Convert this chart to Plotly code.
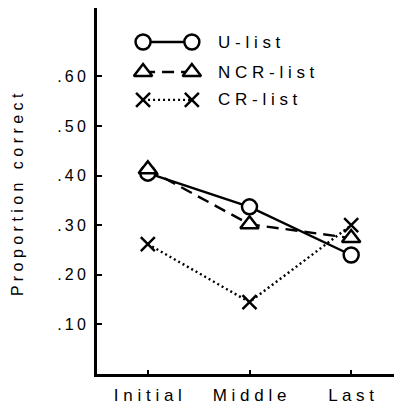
import plotly.graph_objects as go

# ---- data ----
categories = ["Initial", "Middle", "Last"]
u_list = [0.405, 0.337, 0.240]
ncr_list = [0.413, 0.302, 0.274]
cr_list = [0.262, 0.145, 0.300]
series_names = ["U-list", "NCR-list", "CR-list"]
y_ticks = [0.10, 0.20, 0.30, 0.40, 0.50, 0.60]
y_tick_labels = [".10", ".20", ".30", ".40", ".50", ".60"]
y_title = "Proportion correct"

FONT = "Liberation Sans, Arial, Helvetica, sans-serif"


def spaced(s, gap=" "):
    return gap.join(list(s))


styles = [
    dict(dash="solid", symbol="circle", size=15),
    dict(dash="12px,7px", symbol="triangle-up", size=16),
    dict(dash="2px,3px", symbol="x-thin", size=14),
]

fig = go.Figure()
for vals, st in zip([u_list, ncr_list, cr_list], styles):
    fig.add_trace(go.Scatter(
        x=categories, y=vals, mode="lines+markers",
        line=dict(color="black", width=2.4, dash=st["dash"]),
        marker=dict(symbol=st["symbol"], size=st["size"], color="white",
                    line=dict(color="black", width=2.5)),
        showlegend=False, cliponaxis=False,
    ))

# custom legend on an overlay axis (sample line with marker at both ends)
leg_rows = [0.907, 0.825, 0.749]
for name, st, yy in zip(series_names, styles, leg_rows):
    fig.add_trace(go.Scatter(
        x=[0.151, 0.311], y=[yy, yy], xaxis="x2", yaxis="y2",
        mode="lines+markers",
        line=dict(color="black", width=2.4, dash=st["dash"]),
        marker=dict(symbol=st["symbol"], size=st["size"], color="white",
                    line=dict(color="black", width=2.5)),
        showlegend=False, hoverinfo="skip", cliponaxis=False,
    ))
    fig.add_annotation(x=0.39, y=yy, xref="x2", yref="y2", text=spaced(name),
                       showarrow=False, xanchor="left", yanchor="middle",
                       font=dict(family=FONT, size=17, color="black"))

fig.add_annotation(x=0, y=0.489, xref="paper", yref="paper", xshift=-80,
                   text=spaced(y_title), textangle=-90, showarrow=False,
                   xanchor="center", yanchor="middle", borderpad=0,
                   font=dict(family=FONT, size=16, color="black"))

# the page body adds an 8px offset; margins compensate for it
fig.update_layout(
    width=394, height=398,
    margin=dict(l=89, r=0, t=0, b=32),
    paper_bgcolor="white", plot_bgcolor="white",
    font=dict(family=FONT, size=15, color="black"),
    xaxis=dict(
        type="category", range=[-0.5, 2.5],
        tickvals=categories, ticktext=[spaced(c) for c in categories],
        showline=True, linecolor="black", linewidth=3,
        ticks="inside", ticklen=4, tickwidth=1.5, tickcolor="black",
        showgrid=False, zeroline=False, ticklabelstandoff=4,
        tickfont=dict(family=FONT, size=17, color="black"),
    ),
    yaxis=dict(
        range=[0, 0.738],
        tickvals=y_ticks, ticktext=[spaced(t, "\u2009") for t in y_tick_labels],
        showline=True, linecolor="black", linewidth=3,
        ticks="inside", ticklen=5, tickwidth=1.5, tickcolor="black",
        showgrid=False, zeroline=False, ticklabelstandoff=5,
        tickfont=dict(family=FONT, size=16, color="black"),
    ),
    xaxis2=dict(range=[0, 1], overlaying="x", visible=False, fixedrange=True),
    yaxis2=dict(range=[0, 1], overlaying="y", visible=False, fixedrange=True),
)

fig.write_html("out.html")
